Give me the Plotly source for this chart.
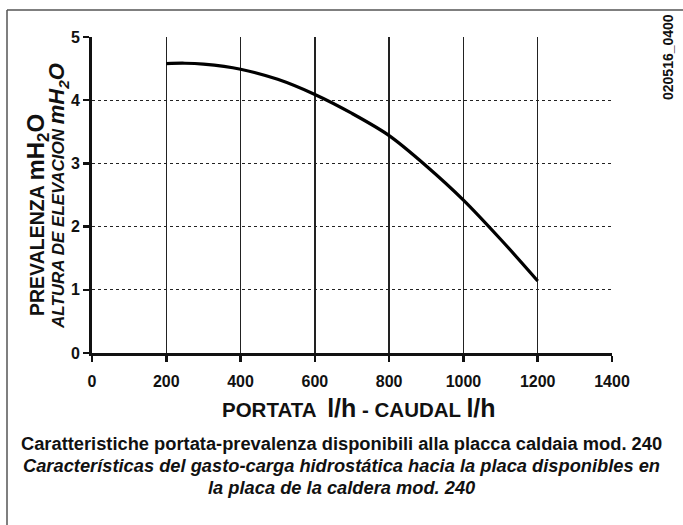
import plotly.graph_objects as go

# Data
flow_lh = [200, 250, 300, 400, 500, 600, 700, 800, 900, 1000, 1100, 1200]
head_m = [4.58, 4.585, 4.57, 4.49, 4.33, 4.09, 3.79, 3.44, 2.96, 2.42, 1.80, 1.14]
x_ticks = [0, 200, 400, 600, 800, 1000, 1200, 1400]
y_ticks = [0, 1, 2, 3, 4, 5]

FONT = "Liberation Sans, Arial, sans-serif"
W, H = 683, 525
L, R, T, B = 92, 71, 37, 172
pw, ph = W - L - R, H - T - B

def px(xp):
    return (xp - L) / pw

def py(yp):
    return (H - B - yp) / ph

fig = go.Figure()
fig.add_trace(go.Scatter(
    x=flow_lh, y=head_m, mode="lines",
    line=dict(color="black", width=3.2, shape="spline", smoothing=0.9),
    hoverinfo="skip", showlegend=False,
))

fig.update_xaxes(
    range=[0, 1400], tickvals=x_ticks, ticktext=[f"<b>{v}</b>" for v in x_ticks],
    showgrid=True, gridcolor="#222", gridwidth=1.3,
    showline=True, linecolor="#111", linewidth=3,
    ticks="outside", ticklen=6, tickwidth=2.5, tickcolor="#111",
    ticklabelstandoff=6,
    tickfont=dict(family=FONT, size=16, color="#111"),
    zeroline=False, fixedrange=True,
)
fig.update_yaxes(
    range=[0, 5], tickvals=y_ticks, ticktext=[f"<b>{v}</b>" for v in y_ticks],
    showgrid=True, gridcolor="#222", gridwidth=1.3, griddash="3px,3px",
    showline=True, linecolor="#111", linewidth=3,
    ticks="outside", ticklen=6, tickwidth=2.5, tickcolor="#111",
    tickfont=dict(family=FONT, size=16, color="#111"),
    zeroline=False, fixedrange=True,
)

ann = []
# y title (two rotated lines)
ann.append(dict(
    text="<b>PREVALENZA <span style='font-size:24px'>mH<sub>2</sub>O</span></b>",
    x=px(37), y=py(215), xref="paper", yref="paper", textangle=-90,
    showarrow=False, xanchor="center", yanchor="middle",
    font=dict(family=FONT, size=19.5, color="#111"),
))
ann.append(dict(
    text="<b><i>ALTURA DE ELEVACION <span style='font-size:22px'>mH<sub>2</sub>O</span></i></b>",
    x=px(58), y=py(196), xref="paper", yref="paper", textangle=-90,
    showarrow=False, xanchor="center", yanchor="middle",
    font=dict(family=FONT, size=17, color="#111"),
))
# x title
ann.append(dict(
    text="<b>PORTATA  <span style='font-size:25px'>l/h</span> - CAUDAL <span style='font-size:25px'>l/h</span></b>",
    x=px(359), y=py(408), xref="paper", yref="paper",
    showarrow=False, xanchor="center", yanchor="middle",
    font=dict(family=FONT, size=20.5, color="#111"),
))
# caption
captions = [
    ("<b>Caratteristiche portata-prevalenza disponibili alla placca caldaia mod. 240</b>", 443),
    ("<b><i>Características del gasto-carga hidrostática hacia la placa disponibles en</i></b>", 465),
    ("<b><i>la placa de la caldera mod. 240</i></b>", 487),
]
for t, yy in captions:
    ann.append(dict(
        text=t, x=px(341), y=py(yy), xref="paper", yref="paper",
        showarrow=False, xanchor="center", yanchor="middle",
        font=dict(family=FONT, size=18.3, color="#111"),
    ))
# id code
ann.append(dict(
    text="<b>020516_0400</b>", x=px(668), y=py(57), xref="paper", yref="paper",
    textangle=-90, showarrow=False, xanchor="center", yanchor="middle",
    font=dict(family=FONT, size=14, color="#111"),
))

shapes = [
    dict(type="line", xref="paper", yref="paper", x0=px(7), x1=px(7), y0=py(10), y1=py(530),
         line=dict(color="#555", width=1.5)),
    dict(type="line", xref="paper", yref="paper", x0=px(7), x1=px(690), y0=py(10), y1=py(10),
         line=dict(color="#555", width=1.5)),
]

fig.update_layout(
    width=W, height=H, margin=dict(l=L, r=R, t=T, b=B),
    paper_bgcolor="white", plot_bgcolor="white",
    annotations=ann, shapes=shapes, showlegend=False,
)

fig.write_html(
    "out.html",
    config={"displayModeBar": False, "staticPlot": True},
    post_script="document.body.style.margin='0';document.body.style.overflow='hidden';",
)
